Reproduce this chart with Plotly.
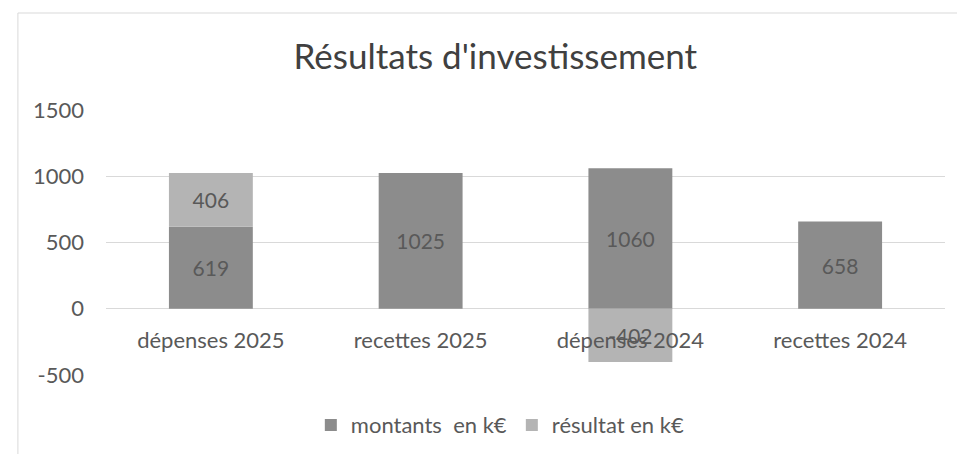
import plotly.graph_objects as go

categories = ["dépenses 2025", "recettes 2025", "dépenses 2024", "recettes 2024"]
montants = [619, 1025, 1060, 658]
resultat = [406, None, -402, None]
y_ticks = [-500, 0, 500, 1000, 1500]
y_tick_labels = ["-500", "0", "500", "1000", "1500"]

FONT = "Lato"
TXT = "#595959"

fig = go.Figure()
fig.add_trace(go.Bar(
    x=categories, y=montants, name="montants  en k€",
    marker=dict(color="#8c8c8c", line=dict(width=0)),
    text=[str(v) for v in montants], textposition="inside", insidetextanchor="middle",
    textfont=dict(family=FONT, size=21, color=TXT),
))
fig.add_trace(go.Bar(
    x=categories, y=resultat, name="résultat en k€",
    marker=dict(color="#b4b4b4", line=dict(width=0)),
    text=[str(v) if v is not None else "" for v in resultat],
    textposition="inside", insidetextanchor="middle",
    textfont=dict(family=FONT, size=21, color=TXT),
))

fig.update_layout(
    width=965, height=454,
    margin=dict(l=98, r=28, t=102, b=87),
    paper_bgcolor="white", plot_bgcolor="white",
    barmode="relative", bargap=0.6,
    font=dict(family=FONT, color=TXT),
    title=dict(text="Résultats d'investissement", x=0.505, xanchor="center",
               y=0.892, yanchor="middle",
               font=dict(family=FONT, size=35, color="#404040")),
    showlegend=True,
    legend=dict(orientation="h", x=0.47, xanchor="center", y=-0.189, yanchor="middle",
                font=dict(family=FONT, size=22, color=TXT), itemwidth=30,
                traceorder="normal"),
    xaxis=dict(anchor="free", position=0.25, showline=False, ticks="",
               tickfont=dict(family=FONT, size=22, color=TXT),
               ticklabelstandoff=16, showgrid=False, zeroline=False),
    yaxis=dict(range=[-500, 1500], tickvals=y_ticks, ticktext=y_tick_labels,
               showgrid=True, gridcolor="#d9d9d9", gridwidth=1, zeroline=False,
               tickfont=dict(family=FONT, size=22, color=TXT), ticks="",
               ticklabelstandoff=21),
    shapes=[dict(type="rect", xref="paper", yref="paper",
                 x0=-0.105, x1=1.3, y0=-0.7, y1=1.366,
                 line=dict(color="#d9d9d9", width=1), layer="below")],
)

fig.write_html("out.html")
